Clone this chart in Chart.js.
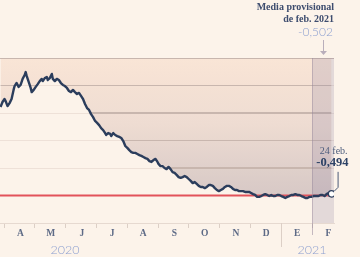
<!DOCTYPE html>
<html><head><meta charset="utf-8">
<script src="https://cdn.jsdelivr.net/npm/chart.js@4"></script>
<style>html,body{margin:0;padding:0;background:#fcf3ea;}#wrap{width:360px;height:257px;}</style>
</head><body><div id="wrap"><canvas id="c" width="360" height="257"></canvas></div>
<script>
// Days counted from 1 April 2020 (Euribor 12 meses, %)
const days = [-4,-2,0,1,3,5,7,9,10,12,14,16,18,20,21,22,24,26,27,29,31,33,35,37,38,40,42,43,45,47,48,50,52,54,56,58,60,62,64,66,68,70,72,74,76,78,80,82,84,86,88,90,92,94,96,98,100,101,103,105,106,108,110,112,114,116,118,120,122,124,126,128,130,132,134,136,138,140,142,144,146,148,150,152,153,155,157,159,161,163,165,167,169,171,173,175,177,179,181,183,185,187,189,191,193,195,197,199,201,203,205,207,209,211,213,215,217,219,221,223,225,227,229,231,233,235,237,239,241,243,245,247,249,251,253,255,257,259,261,263,265,267,269,271,273,275,277,279,281,283,285,287,289,291,293,295,297,299,301,303,305,307,308,310,312,314,316,318,320,322,324,325];
const euribor = [-0.178,-0.160,-0.149,-0.156,-0.175,-0.164,-0.149,-0.116,-0.102,-0.091,-0.105,-0.098,-0.076,-0.062,-0.051,-0.065,-0.087,-0.109,-0.124,-0.116,-0.105,-0.095,-0.084,-0.076,-0.084,-0.073,-0.069,-0.080,-0.073,-0.058,-0.076,-0.084,-0.076,-0.080,-0.091,-0.098,-0.102,-0.109,-0.120,-0.124,-0.116,-0.124,-0.131,-0.127,-0.138,-0.149,-0.167,-0.182,-0.189,-0.204,-0.215,-0.229,-0.236,-0.244,-0.255,-0.262,-0.273,-0.280,-0.273,-0.276,-0.284,-0.273,-0.280,-0.284,-0.287,-0.291,-0.302,-0.320,-0.327,-0.335,-0.342,-0.345,-0.345,-0.349,-0.353,-0.356,-0.360,-0.364,-0.367,-0.375,-0.378,-0.371,-0.367,-0.378,-0.385,-0.393,-0.393,-0.400,-0.404,-0.396,-0.404,-0.415,-0.418,-0.425,-0.433,-0.436,-0.433,-0.429,-0.433,-0.440,-0.447,-0.455,-0.451,-0.458,-0.465,-0.469,-0.469,-0.473,-0.469,-0.462,-0.462,-0.465,-0.473,-0.480,-0.484,-0.480,-0.476,-0.469,-0.465,-0.465,-0.469,-0.476,-0.480,-0.480,-0.484,-0.484,-0.484,-0.487,-0.487,-0.487,-0.491,-0.495,-0.498,-0.505,-0.505,-0.502,-0.498,-0.495,-0.498,-0.502,-0.498,-0.502,-0.502,-0.498,-0.498,-0.502,-0.505,-0.509,-0.505,-0.502,-0.498,-0.498,-0.495,-0.498,-0.498,-0.502,-0.505,-0.509,-0.509,-0.505,-0.505,-0.502,-0.502,-0.502,-0.502,-0.498,-0.498,-0.502,-0.495,-0.491,-0.495,-0.494];
const monthStarts = [0,30,61,91,122,153,183,214,244,275,306];
const monthLabels = ['A','M','J','J','A','S','O','N','D','E','F'];
const yearTickDays = [60,305.5];
const yearLabels = ['2020','2021'];
const gridValues = [0,-0.1,-0.2,-0.3,-0.4];
const referenceLevel = -0.5;
const febStart = 306;
const xMin = -4.5, xMax = 327.4, yMin = -0.6, yMax = 0;
const lastLabelDate = '24 feb.';
const lastLabelValue = '-0,494';
const avgTitle = ['Media provisional','de feb. 2021'];
const avgValue = '-0,502';

const series = days.map((d,i)=>({x:d,y:euribor[i]}));

const baseStops = [[0,[249,229,214]],[0.4,[238,220,210]],[0.75,[219,204,200]],[1,[208,194,194]]];
function baseAt(f){
  for(let i=1;i<baseStops.length;i++){
    if(f<=baseStops[i][0]){
      const [f0,c0]=baseStops[i-1],[f1,c1]=baseStops[i];
      const t=(f-f0)/(f1-f0);
      return 'rgb('+c0.map((c,k)=>Math.round(c+(c1[k]-c)*t)).join(',')+')';
    }
  }
  return 'rgb('+baseStops[baseStops.length-1][1].join(',')+')';
}
function fillGradient(ctx){
  const chart=ctx.chart, a=chart.chartArea;
  if(!a) return 'rgb(240,222,212)';
  const y=chart.scales.y, H=a.bottom-a.top;
  const g=chart.ctx.createLinearGradient(0,a.top,0,a.bottom);
  const stops=[];
  baseStops.forEach(s=>stops.push([s[0],baseAt(s[0])]));
  const h=0.7/H, line='#c8b6ae';
  gridValues.forEach(v=>{
    const f=(y.getPixelForValue(v)-a.top)/H;
    const f0=Math.max(0,f-h), f1=Math.min(1,f+h);
    stops.push([f0,baseAt(f0)],[f0,line],[f1,line],[f1,baseAt(f1)]);
  });
  stops.sort((p,q)=>p[0]-q[0]);
  stops.forEach(s=>g.addColorStop(Math.min(1,Math.max(0,s[0])),s[1]));
  return g;
}

const decor={
  id:'decor',
  afterDraw(chart){
    const {ctx,chartArea:a,scales:{x}}=chart;
    ctx.save();
    ctx.lineWidth=1;
    const xJan=Math.round(x.getPixelForValue(monthStarts[9]))+0.5;
    ctx.strokeStyle='#dccfc6';
    ctx.beginPath();ctx.moveTo(xJan,a.bottom);ctx.lineTo(xJan,a.bottom+24);ctx.stroke();
    const xb=Math.round(x.getPixelForValue(febStart))+0.5;
    ctx.strokeStyle='rgba(150,135,155,0.55)';
    ctx.beginPath();ctx.moveTo(xb,a.top);ctx.lineTo(xb,a.bottom+12);ctx.stroke();
    const xc=Math.round((x.getPixelForValue(febStart)+a.right)/2)+0.5;
    ctx.strokeStyle='#b9aebb';ctx.fillStyle='#b9aebb';
    ctx.beginPath();ctx.moveTo(xc,a.top-18);ctx.lineTo(xc,a.top-6);ctx.stroke();
    ctx.beginPath();ctx.moveTo(xc-3.5,a.top-7);ctx.lineTo(xc+3.5,a.top-7);ctx.lineTo(xc,a.top-3);ctx.closePath();ctx.fill();
    ctx.textAlign='right';ctx.textBaseline='middle';
    ctx.fillStyle='#3d4c6e';
    ctx.font='bold 10px "Liberation Serif"';
    ctx.fillText(avgTitle[0],a.right,7);
    ctx.fillText(avgTitle[1],a.right,19);
    ctx.fillStyle='#8c9fd0';
    ctx.font='300 12px Lato';
    ctx.fillText(avgValue,a.right-1,32);
    const meta=chart.getDatasetMeta(3);
    const pt=meta.data[meta.data.length-1];
    const px=pt.x, py=pt.y;
    ctx.strokeStyle='#4a5a78';
    ctx.beginPath();ctx.moveTo(px+2.5,py-2.5);ctx.lineTo(px+6.5,py-6.5);ctx.lineTo(px+6.5,py-22);ctx.stroke();
    ctx.fillStyle='#4d5d7d';
    ctx.font='10px "Liberation Serif"';
    ctx.fillText(lastLabelDate,px+16,py-42);
    ctx.fillStyle='#2d4266';
    ctx.font='bold 12.5px "Liberation Serif"';
    ctx.fillText(lastLabelValue,px+17,py-31);
    ctx.restore();
  }
};

new Chart(document.getElementById('c'),{
  type:'line',
  data:{datasets:[
    {data:series,borderWidth:0,pointRadius:0,fill:{value:yMax},backgroundColor:fillGradient,order:4},
    {data:[{x:xMin,y:referenceLevel},{x:xMax,y:referenceLevel}],borderColor:'#e2525a',borderWidth:2,pointRadius:0,fill:false,order:3},
    {data:[{x:febStart,y:yMax},{x:xMax,y:yMax}],borderWidth:0,pointRadius:0,fill:{value:yMin},backgroundColor:'rgba(140,128,158,0.22)',order:2},
    {data:series,borderColor:'#2b3d5c',borderWidth:2.4,borderJoinStyle:'round',tension:0,fill:false,order:1,
     pointRadius:c=>c.dataIndex===series.length-1?3.2:0,pointBackgroundColor:'#ffffff',pointBorderColor:'#2b3d5c',pointBorderWidth:1.3}
  ]},
  options:{
    responsive:false,devicePixelRatio:1,animation:false,
    layout:{autoPadding:false,padding:{top:58,right:26,bottom:0,left:0}},
    plugins:{legend:{display:false},tooltip:{enabled:false}},
    scales:{
      x:{type:'linear',min:xMin,max:xMax,position:'bottom',weight:0,
        afterBuildTicks:s=>{s.ticks=monthStarts.map(v=>({value:v}));},
        afterFit:s=>{s.paddingLeft=0;s.paddingRight=0;s.height=15;},
        ticks:{autoSkip:false,maxRotation:0,labelOffset:16,padding:0,color:'#5d6a86',
          font:{family:'Liberation Serif',weight:'bold',size:9.5},callback:(v,i)=>monthLabels[i]},
        grid:{drawOnChartArea:false,drawTicks:true,tickLength:5,tickColor:'#dccfc6',color:'#dccfc6'},
        border:{display:true,color:'#e6d9d0'}},
      xYear:{type:'linear',min:xMin,max:xMax,position:'bottom',weight:1,
        afterBuildTicks:s=>{s.ticks=yearTickDays.map(v=>({value:v}));},
        afterFit:s=>{s.paddingLeft=0;s.paddingRight=0;s.height=19;},
        ticks:{autoSkip:false,maxRotation:0,padding:5,color:'#8c9fd0',
          font:{family:'Lato',weight:300,size:12.5,lineHeight:1.1},callback:(v,i)=>yearLabels[i]},
        grid:{display:false,drawTicks:false},border:{display:false}},
      y:{min:yMin,max:yMax,ticks:{display:false,stepSize:0.1},border:{display:false},
        afterFit:s=>{s.width=0;},
        grid:{drawTicks:false,color:c=>{
          const v=c.tick?c.tick.value:0;
          if(Math.abs(v)<1e-6) return '#cbb9b1';
          if(Math.abs(v-referenceLevel)<1e-6||Math.abs(v-yMin)<1e-6) return 'rgba(0,0,0,0)';
          return '#eee1d8';}}}
    }
  },
  plugins:[decor]
});
</script></body></html>
